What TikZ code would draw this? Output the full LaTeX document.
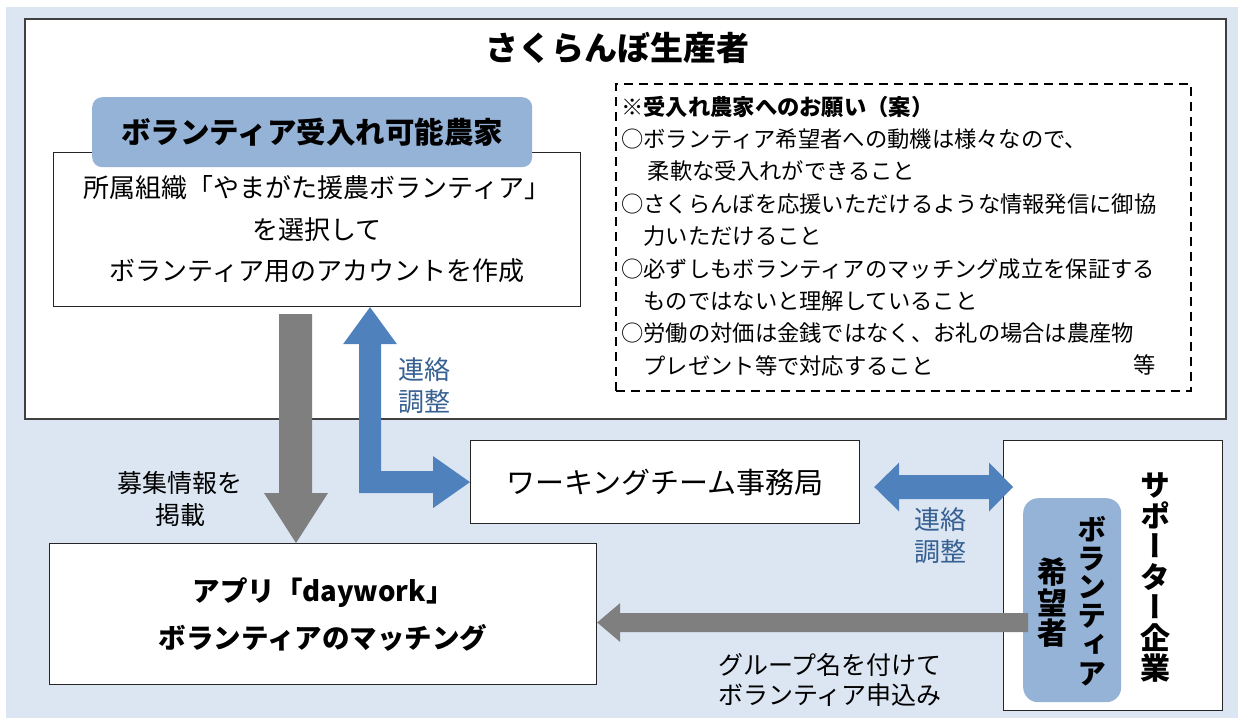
\documentclass[tikz,border=0pt]{standalone}
\usepackage{fontspec}
\setmainfont{Noto Sans CJK JP}
\newfontfamily\vjp{Noto Sans CJK JP}[RawFeature=+vert]
\usetikzlibrary{calc}
\definecolor{bgblue}{HTML}{DCE6F2}
\definecolor{boxblue}{HTML}{95B3D7}
\definecolor{arrblue}{HTML}{4F81BD}
\definecolor{arrgray}{HTML}{7F7F7F}
\definecolor{lblblue}{HTML}{376092}
\begin{document}
\begin{tikzpicture}[x=1pt,y=-1pt,
  box/.style={draw=black!85, line width=1.2pt, fill=white, inner sep=0pt, anchor=north west, align=center},
  bluebox/.style={fill=boxblue, rounded corners=#1, inner sep=0pt, anchor=north west, align=center},
  bluebox/.default=10pt,
  lbl/.style={align=center, inner sep=0pt},
  vtext/.style={align=center, inner sep=0pt, font=\vjp\bfseries\fontsize{30}{30.5}\selectfont}]
\useasboundingbox (0,0) rectangle (1238,718);
\fill[bgblue] (6,7) rectangle (1238,718);

% producer block
\node[box, draw=black!75, line width=1.6pt, minimum width=1201pt, minimum height=400pt] (producer) at (24,18) {};
\node[lbl, font=\bfseries\fontsize{33}{40}\selectfont] (title) at (617,48) {さくらんぼ生産者};

\node[box, minimum width=527pt, minimum height=154pt, font=\fontsize{26}{41.5}\selectfont] (farm) at (53,152)
  {所属組織「やまがた援農ボランティア」\\を選択して\\ボランティア用のアカウントを作成};
\node[bluebox, minimum width=440pt, minimum height=70pt, font=\bfseries\fontsize{29.5}{36}\selectfont] (farmlabel) at (92,97)
  {ボランティア受入れ可能農家};

\node[draw=black, line width=2.2pt, dash pattern=on 9pt off 6pt, inner sep=0pt, anchor=north west,
  minimum width=575pt, minimum height=307pt] (notesbox) at (615,83) {};
\node[anchor=west, align=left, inner sep=0pt, font=\fontsize{22.3}{32.4}\selectfont] (notes) at (621,236)
  {{\bfseries ※受入れ農家へのお願い（案）}\\
   ○ボランティア希望者への動機は様々なので、\\
   \hspace*{1.2em}柔軟な受入れができること\\
   ○さくらんぼを応援いただけるような情報発信に御協\\
   \hspace*{1em}力いただけること\\
   ○必ずしもボランティアのマッチング成立を保証する\\
   \hspace*{1em}ものではないと理解していること\\
   ○労働の対価は金銭ではなく、お礼の場合は農産物\\
   \hspace*{1em}プレゼント等で対応すること};
\node[lbl, font=\fontsize{22.3}{32.4}\selectfont] (etc) at (1145,365) {等};

% working team
\node[box, minimum width=389pt, minimum height=83pt, font=\fontsize{29}{36}\selectfont] (wt) at (470,440) {ワーキングチーム事務局};

% app
\node[box, minimum width=547pt, minimum height=141pt, font=\bfseries\fontsize{27.5}{47}\selectfont] (app) at (49,543)
  {アプリ「daywork」\\ボランティアのマッチング};

% supporter
\node[box, minimum width=219pt, minimum height=270pt] (sup) at (1003,440) {};
\node[bluebox=15pt, minimum width=98pt, minimum height=204pt] (supcore) at (1023,498) {};

% arrows
\path[fill=arrgray] let \p1=(farm.south), \p2=(app.north) in
  (279pt,\y1-7pt) -- (312pt,\y1-7pt) -- (312pt,\y2+50pt) -- (328pt,\y2+50pt) -- (296pt,\y2)
  -- (264pt,\y2+50pt) -- (279pt,\y2+50pt) -- cycle;
\path[fill=arrblue] let \p1=(farm.south), \p2=(wt.west) in
  (359pt,\y1-37pt) -- (343pt,\y1-37pt) -- (370pt,\y1) -- (397pt,\y1-37pt) -- (381pt,\y1-37pt)
  -- (381pt,\y2+11pt) -- (\x2-37pt,\y2+11pt) -- (\x2-37pt,\y2+26pt) -- (\x2,\y2)
  -- (\x2-37pt,\y2-26pt) -- (\x2-37pt,\y2-11pt) -- (359pt,\y2-11pt) -- cycle;
\path[fill=arrblue] let \p1=(wt.east), \p2=(sup.west) in
  (\x1+14pt,-487pt) -- (\x1+39pt,-462.5pt) -- (\x1+39pt,-475pt) -- (\x2-14pt,-475pt)
  -- (\x2-14pt,-462.5pt) -- (\x2+10pt,-487pt) -- (\x2-14pt,-511.5pt) -- (\x2-14pt,-499pt)
  -- (\x1+39pt,-499pt) -- (\x1+39pt,-511.5pt) -- cycle;
\path[fill=arrgray] let \p1=(supcore.west), \p2=(app.east) in
  (\x1+5pt,-613pt) -- (\x2+23pt,-613pt) -- (\x2+23pt,-603pt) -- (\x2,-622.5pt)
  -- (\x2+23pt,-642pt) -- (\x2+23pt,-632pt) -- (\x1+5pt,-632pt) -- cycle;

% vertical texts
\node[vtext] (suptext) at (1155,578) {サ\\ポ\\ー\\タ\\ー\\企\\業};
\node[vtext, font=\vjp\bfseries\fontsize{29}{28.7}\selectfont] (voltext) at (1092,601) {ボ\\ラ\\ン\\テ\\ィ\\ア};
\node[vtext] (hopetext) at (1052,603) {希\\望\\者};

% labels
\node[lbl, text=lblblue, font=\fontsize{26}{32}\selectfont] (lbl1) at (424,386) {連絡\\調整};
\node[lbl, text=lblblue, font=\fontsize{26}{32}\selectfont] (lbl2) at (940,536) {連絡\\調整};
\node[lbl, font=\fontsize{25}{32}\selectfont] (lbl3) at (180,499) {募集情報を\\掲載};
\node[lbl, font=\fontsize{25}{30}\selectfont] (lbl4) at (830,680) {グループ名を付けて\\ボランティア申込み};
\end{tikzpicture}
\end{document}
